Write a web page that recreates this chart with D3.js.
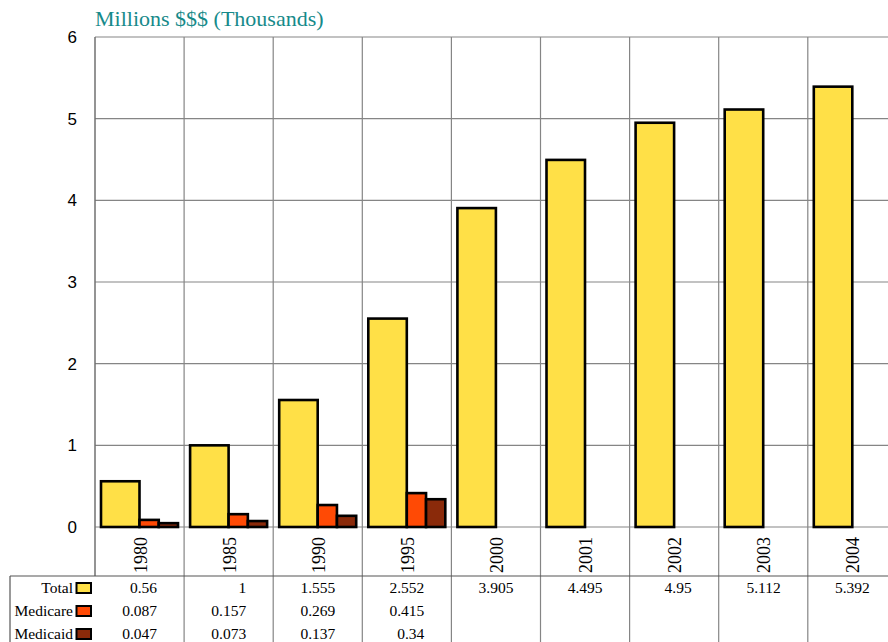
<!DOCTYPE html>
<html><head><meta charset="utf-8">
<script src="https://cdn.jsdelivr.net/npm/d3@7"></script>
<style>body{margin:0;background:#fff;overflow:hidden}svg{display:block}</style>
</head><body>
<script>
const years = ["1980","1985","1990","1995","2000","2001","2002","2003","2004"];
const totalVals = [0.56, 1, 1.555, 2.552, 3.905, 4.495, 4.95, 5.112, 5.392];
const medicareVals = [0.087, 0.157, 0.269, 0.415, null, null, null, null, null];
const medicaidVals = [0.047, 0.073, 0.137, 0.34, null, null, null, null, null];
const seriesNames = ["Total", "Medicare", "Medicaid"];
const seriesColors = ["#FFE047", "#FF4A05", "#8A2A0A"];
const yTicks = [0, 1, 2, 3, 4, 5, 6];

const W = 888, H = 642;
const svg = d3.select("body").append("svg").attr("width", W).attr("height", H);

const x = d3.scaleBand().domain(years).range([95, 95 + 89.1 * years.length]).padding(0);
const y = d3.scaleLinear().domain([0, 6]).range([527, 37]);
// offsets inside a category: Total occupies 2 units, Medicare and Medicaid 1 unit each
const sub = d3.scaleLinear().domain([0, 4]).range([6, 83]);
const subPos = [[0, 2], [2, 3], [3, 4]];
const grid = "#858585";
const tableTop = 576;
const serif = "Liberation Serif, Times New Roman, serif";

// title
svg.append("text").attr("x", 95).attr("y", 26).attr("fill", "#168A8A")
  .attr("font-family", serif).attr("font-size", 22)
  .text("Millions $$$ (Thousands)");

// horizontal gridlines
svg.append("g").selectAll("line").data(yTicks).join("line")
  .attr("x1", 95).attr("x2", W).attr("y1", d => y(d)).attr("y2", d => y(d))
  .attr("stroke", grid).attr("stroke-width", 1.2);

// vertical gridlines (category boundaries) through plot, labels and table
svg.append("g").selectAll("line").data(years).join("line")
  .attr("x1", (d, i) => x.range()[0] + x.bandwidth() * (i + 1))
  .attr("x2", (d, i) => x.range()[0] + x.bandwidth() * (i + 1))
  .attr("y1", y(6)).attr("y2", H)
  .attr("stroke", grid).attr("stroke-width", 1.2);
// left axis line
svg.append("line").attr("x1", 95).attr("x2", 95).attr("y1", y(6)).attr("y2", tableTop)
  .attr("stroke", "#707070").attr("stroke-width", 1.5);
// table top and left border
svg.append("line").attr("x1", 10).attr("x2", W).attr("y1", tableTop).attr("y2", tableTop)
  .attr("stroke", "#555").attr("stroke-width", 1.2);
svg.append("line").attr("x1", 10).attr("x2", 10).attr("y1", tableTop).attr("y2", H)
  .attr("stroke", "#555").attr("stroke-width", 1.2);

// y tick labels
svg.append("g").selectAll("text").data(yTicks).join("text")
  .attr("x", 77).attr("y", d => y(d) + 6).attr("text-anchor", "end")
  .attr("font-family", "Liberation Sans, Arial, sans-serif").attr("font-size", 17)
  .attr("fill", "#000").text(d => d);

// bars
const allVals = [totalVals, medicareVals, medicaidVals];
allVals.forEach((vals, si) => {
  svg.append("g").selectAll("rect")
    .data(years.map((yr, i) => ({ yr, v: vals[i] })).filter(d => d.v != null))
    .join("rect")
    .attr("x", d => x(d.yr) + sub(subPos[si][0]))
    .attr("width", sub(subPos[si][1]) - sub(subPos[si][0]))
    .attr("y", d => y(d.v))
    .attr("height", d => y(0) - y(d.v))
    .attr("fill", seriesColors[si]).attr("stroke", "#000").attr("stroke-width", 2.6);
});

// rotated year labels
svg.append("g").selectAll("text").data(years).join("text")
  .attr("transform", d => `translate(${x(d) + x.bandwidth() / 2 + 7},573) rotate(-90)`)
  .attr("font-family", serif).attr("font-size", 18)
  .attr("fill", "#000").text(d => d);

// data table
const rowY = [593, 616, 639];
seriesNames.forEach((name, si) => {
  svg.append("text").attr("x", 73).attr("y", rowY[si]).attr("text-anchor", "end")
    .attr("font-family", serif).attr("font-size", 15.5)
    .text(name);
  svg.append("rect").attr("x", 76.5).attr("y", rowY[si] - 10).attr("width", 14.5).attr("height", 10)
    .attr("fill", seriesColors[si]).attr("stroke", "#000").attr("stroke-width", 2);
  svg.append("g").selectAll("text")
    .data(years.map((yr, i) => ({ yr, v: allVals[si][i] })).filter(d => d.v != null))
    .join("text")
    .attr("x", d => x(d.yr) + x.bandwidth() / 2 + 17.5).attr("y", rowY[si])
    .attr("text-anchor", "end")
    .attr("font-family", serif).attr("font-size", 15.5)
    .text(d => d.v);
});
</script>
</body></html>
